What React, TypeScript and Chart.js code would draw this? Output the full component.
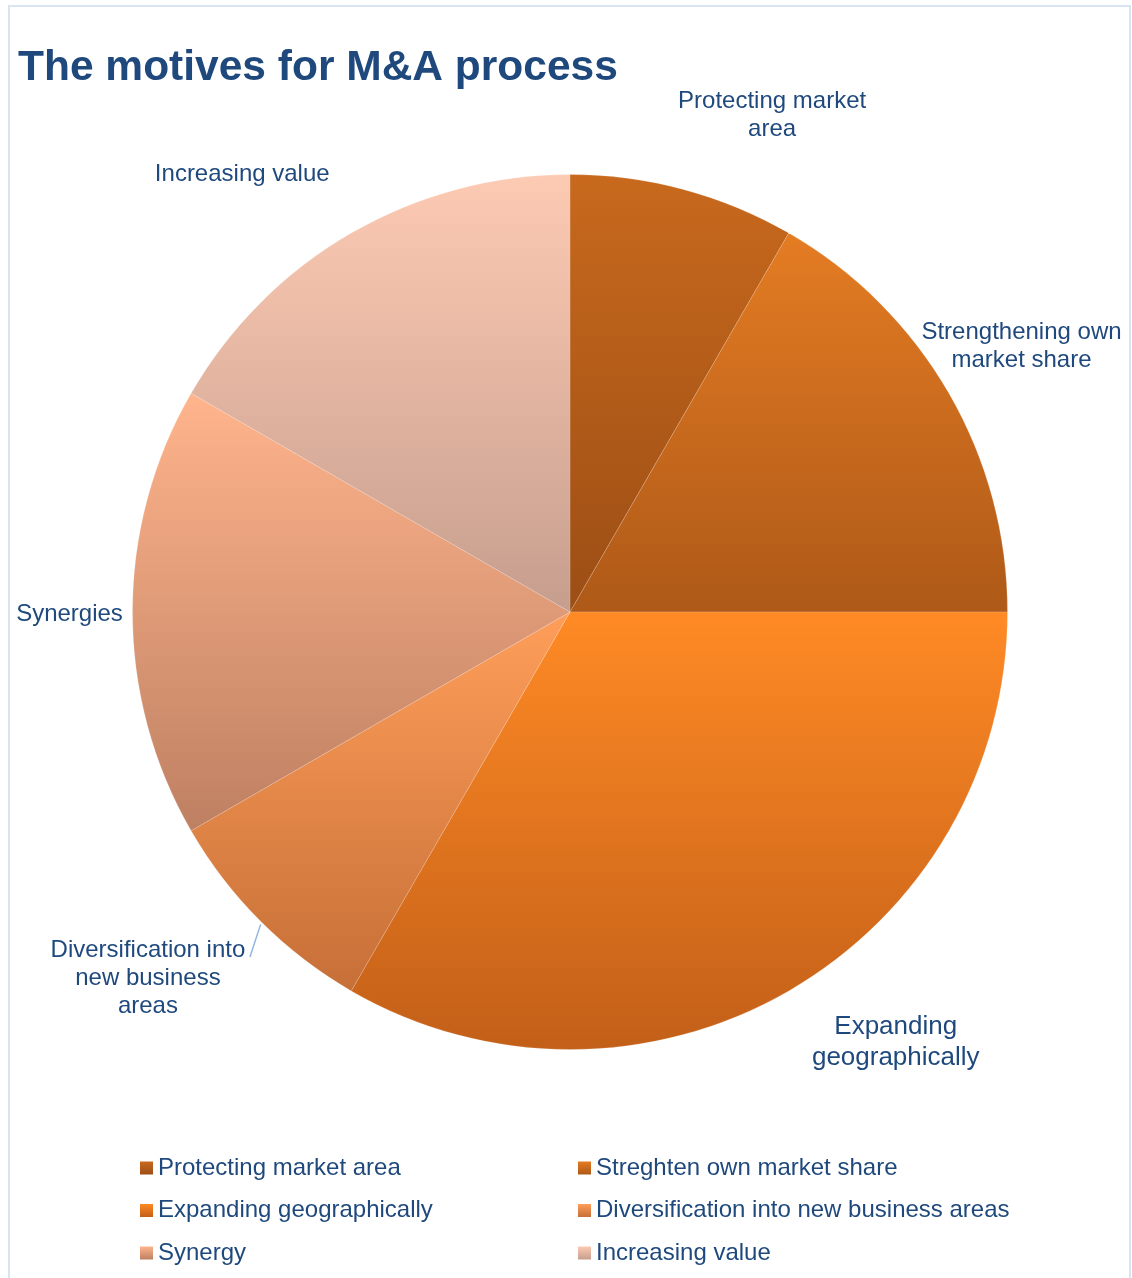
import React, { useEffect, useRef } from "react";
import { Chart, registerables } from "chart.js";

Chart.register(...registerables);

const TITLE = "The motives for M&A process";
const sliceLabels = [
  "Protecting market\narea",
  "Strengthening own\nmarket share",
  "Expanding\ngeographically",
  "Diversification into\nnew business\nareas",
  "Synergies",
  "Increasing value",
];
const legendLabels = [
  "Protecting market area",
  "Streghten own market share",
  "Expanding geographically",
  "Diversification into new business areas",
  "Synergy",
  "Increasing value",
];
const values = [1, 2, 4, 1, 2, 2];

// styles (not data)
const topColors = ["#C8691D", "#E47C23", "#FF8A25", "#FF9E5A", "#FFB48C", "#FDCAB3"];
const bottomColors = ["#9C4E15", "#AE5918", "#C25F18", "#C66F37", "#BE8062", "#C69E8E"];
const labelOffsets = [
  [63, 23],
  [-14, 3],
  [57, -35],
  [-42, -14],
  [37, 2],
  [-59, 28],
];
const TEXT_COLOR = "#1F497D";
const FONT = "'Liberation Sans', Arial, sans-serif";

function sliceBounds(chart: any, idx: number) {
  const ca = chart.chartArea;
  const cx = (ca.left + ca.right) / 2;
  const cy = (ca.top + ca.bottom) / 2;
  const r = Math.min(ca.right - ca.left, ca.bottom - ca.top) / 2;
  const total = values.reduce((a, b) => a + b, 0);
  let acc = 0;
  for (let i = 0; i < idx; i++) acc += values[i];
  const a0 = -Math.PI / 2 + (acc / total) * 2 * Math.PI;
  const a1 = a0 + (values[idx] / total) * 2 * Math.PI;
  const ys = [cy, cy + r * Math.sin(a0), cy + r * Math.sin(a1)];
  for (let k = -4; k <= 8; k++) {
    const a = (k * Math.PI) / 2;
    if (a > a0 && a < a1) ys.push(cy + r * Math.sin(a));
  }
  return { ymin: Math.min(...ys), ymax: Math.max(...ys) };
}

const overlayPlugin = {
  id: "overlay",
  beforeDraw(chart: any) {
    const ctx = chart.ctx;
    ctx.save();
    ctx.fillStyle = "#FFFFFF";
    ctx.fillRect(0, 0, chart.width, chart.height);
    ctx.strokeStyle = "#D9E4F3";
    ctx.lineWidth = 2;
    ctx.strokeRect(9, 6, 1121, 1290);
    ctx.fillStyle = TEXT_COLOR;
    ctx.font = `bold 42.5px ${FONT}`;
    ctx.textBaseline = "alphabetic";
    ctx.textAlign = "left";
    ctx.fillText(TITLE, 18, 80);
    ctx.restore();
  },
  afterDatasetsDraw(chart: any) {
    const ctx = chart.ctx;
    const meta = chart.getDatasetMeta(0);
    ctx.save();
    ctx.fillStyle = TEXT_COLOR;
    ctx.textAlign = "center";
    ctx.textBaseline = "middle";
    meta.data.forEach((arc: any, i: number) => {
      const mid = (arc.startAngle + arc.endAngle) / 2;
      const d = arc.outerRadius + 100;
      const ax = arc.x + Math.cos(mid) * d + labelOffsets[i][0];
      const ay = arc.y + Math.sin(mid) * d + labelOffsets[i][1];
      const lines = sliceLabels[i].split("\n");
      const lh = i === 2 ? 31 : 28;
      ctx.font = i === 2 ? `26px ${FONT}` : `24px ${FONT}`;
      lines.forEach((ln, k) => {
        ctx.fillText(ln, ax, ay + (k - (lines.length - 1) / 2) * lh);
      });
      if (i === 3) {
        ctx.strokeStyle = "#95B6E0";
        ctx.lineWidth = 1.5;
        ctx.beginPath();
        ctx.moveTo(arc.x + Math.cos(mid) * arc.outerRadius, arc.y + Math.sin(mid) * arc.outerRadius + 3);
        ctx.lineTo(ax + 102, ay - 21);
        ctx.stroke();
      }
    });

    // legend
    ctx.font = `24px ${FONT}`;
    ctx.textAlign = "left";
    ctx.textBaseline = "middle";
    const colX = [140, 578];
    legendLabels.forEach((lab, i) => {
      const col = i % 2;
      const row = Math.floor(i / 2);
      const x = colX[col];
      const y = 1168 + row * 42.5;
      const g = ctx.createLinearGradient(0, y - 6.5, 0, y + 6.5);
      g.addColorStop(0, topColors[i]);
      g.addColorStop(1, bottomColors[i]);
      ctx.fillStyle = g;
      ctx.fillRect(x, y - 6.5, 13, 13);
      ctx.fillStyle = TEXT_COLOR;
      ctx.fillText(lab, x + 18, y);
    });
    ctx.restore();
  },
};

export default function App() {
  const ref = useRef<HTMLCanvasElement | null>(null);
  useEffect(() => {
    document.body.style.margin = "0";
    const canvas = ref.current;
    if (!canvas) return;
    const chart = new Chart(canvas, {
      type: "pie",
      data: {
        labels: legendLabels,
        datasets: [
          {
            data: values,
            backgroundColor: (c: any) => {
              const chart = c.chart;
              const i = c.dataIndex;
              if (!chart.chartArea || i === undefined) return topColors[i ?? 0];
              const { ymin, ymax } = sliceBounds(chart, i);
              const g = chart.ctx.createLinearGradient(0, ymin, 0, ymax);
              g.addColorStop(0, topColors[i]);
              g.addColorStop(1, bottomColors[i]);
              return g;
            },
            borderColor: "rgba(255,255,255,0.15)",
            borderWidth: 1,
          },
        ],
      },
      options: {
        responsive: false,
        animation: false,
        layout: { padding: { left: 132, right: 124, top: 174, bottom: 228 } },
        plugins: {
          legend: { display: false },
          tooltip: { enabled: false },
          title: { display: false },
        },
      },
      plugins: [overlayPlugin],
    } as any);
    return () => chart.destroy();
  }, []);
  return <canvas ref={ref} width={1132} height={1278} style={{ display: "block" }} />;
}
